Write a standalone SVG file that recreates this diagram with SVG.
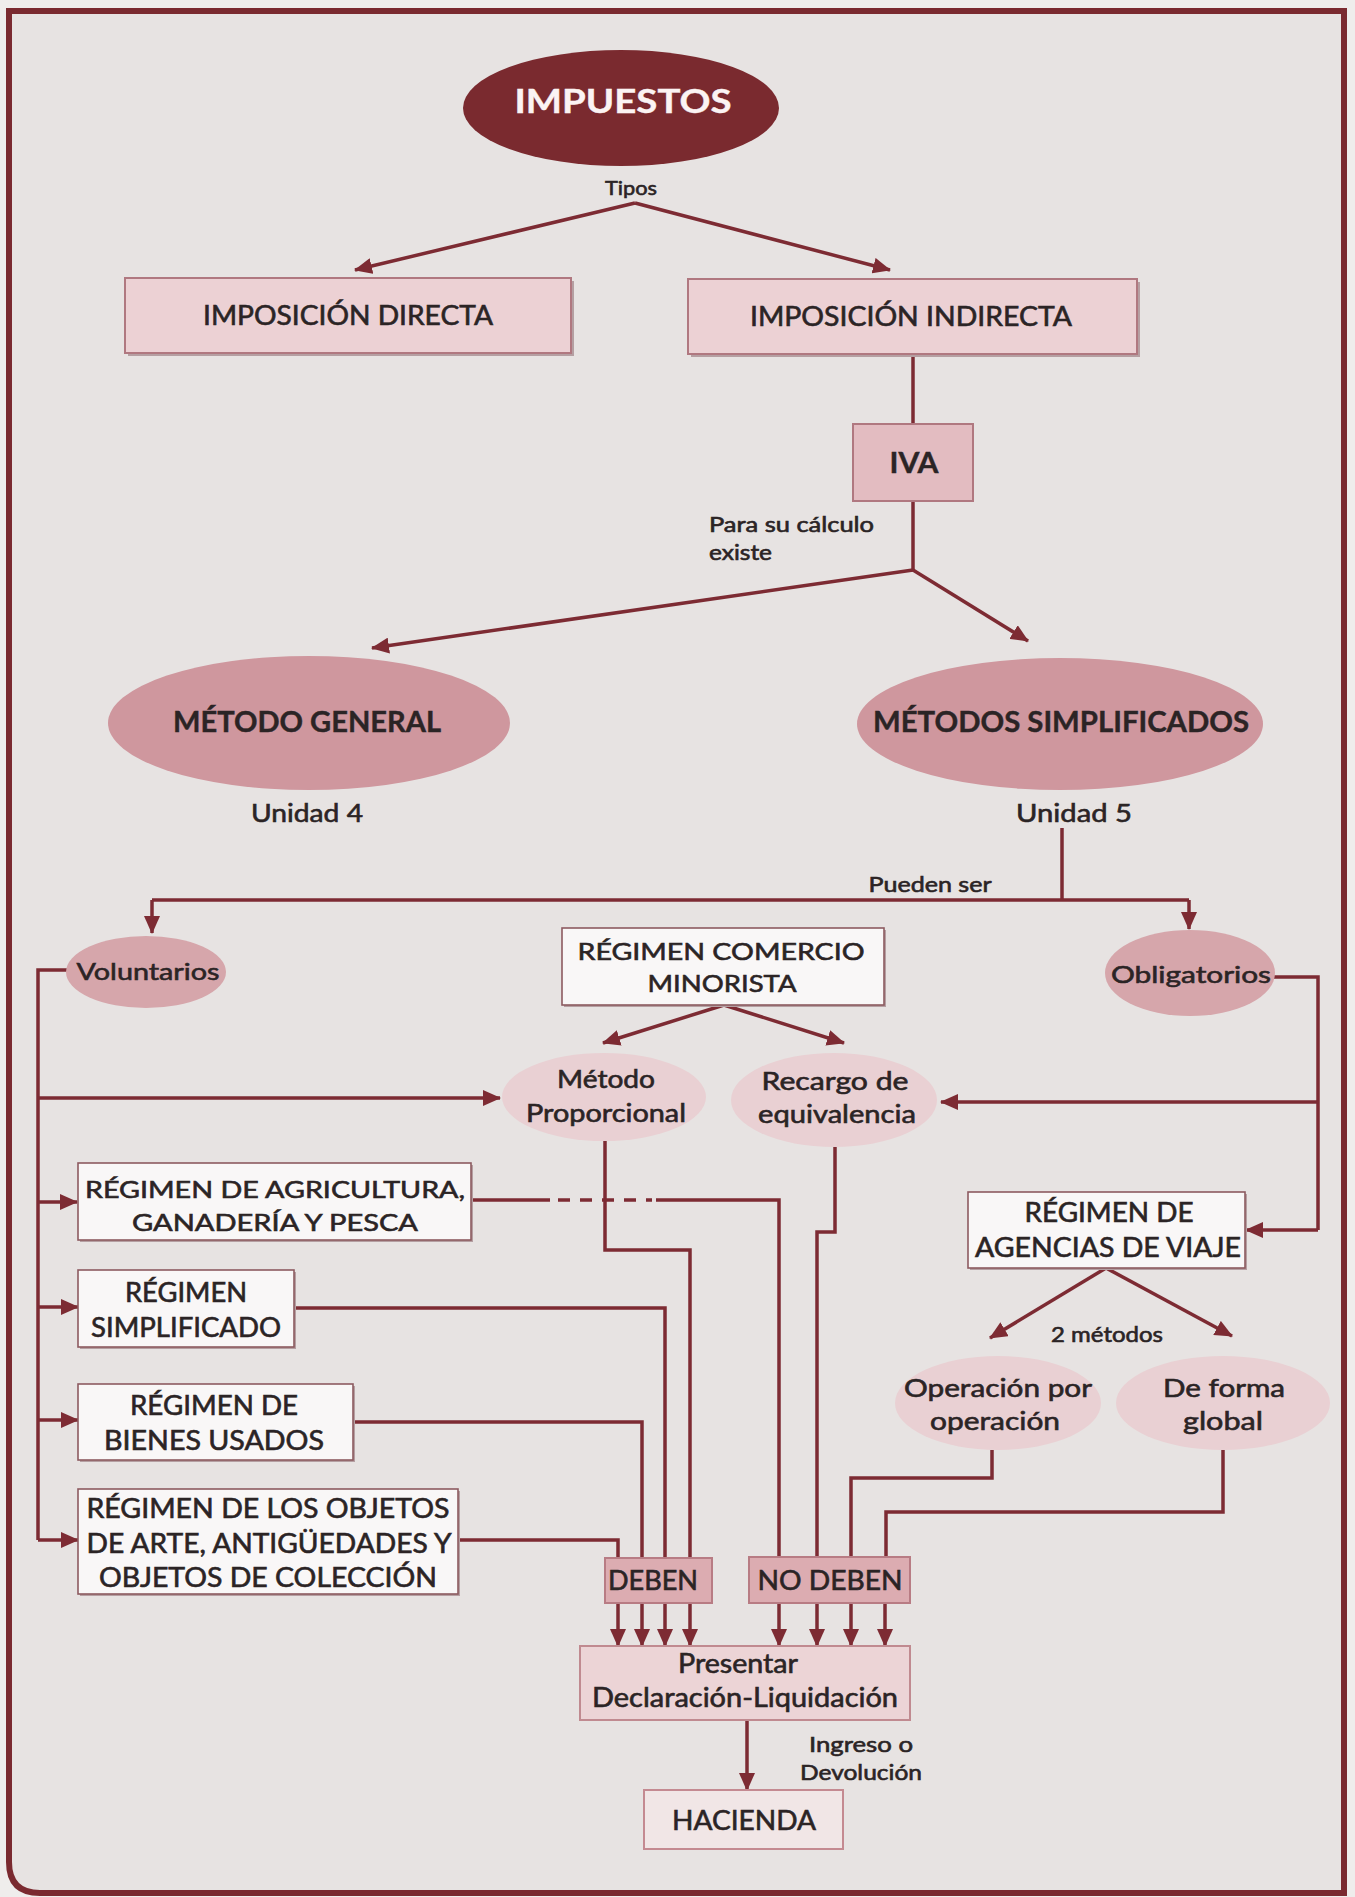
<svg xmlns="http://www.w3.org/2000/svg" width="1355" height="1897" viewBox="0 0 1355 1897">
  <defs>
    <marker id="ah" markerUnits="userSpaceOnUse" markerWidth="18" markerHeight="16" refX="17" refY="8" orient="auto">
      <path d="M0,0 L18,8 L0,16 z" fill="#7d2b33"/>
    </marker>
  </defs>
  <style>
    .t{font-family:Lato,"Open Sans","Liberation Sans",sans-serif;fill:#2b2425;stroke:#2b2425;stroke-width:0.6;text-anchor:middle}
    .b{font-weight:bold;stroke-width:0.4}
    .edge{fill:none;stroke:#7d2b33;stroke-width:3.5;stroke-linejoin:miter}
    .arr{marker-end:url(#ah)}
    .pink{fill:#ecd1d4;stroke:#b07880;stroke-width:2}
    .white{fill:#f9f7f7;stroke:#8d5a60;stroke-width:1.6}
    .shade{fill:#b59fa2}
    .soft{fill:#e9d0d3}
    .mid{fill:#d6a6ab}
  </style>

  <!-- page and frame -->
  <rect x="0" y="0" width="1355" height="1897" fill="#efedec"/>
  <path d="M9,11 H1344 V1893 H40 Q9,1893 9,1862 Z" fill="#e7e3e2"/>
  <path d="M9,11 H1344 V1893 H40 Q9,1893 9,1862 Z" fill="none" stroke="#7a2a30" stroke-width="6"/>

  <!-- connectors -->
  <g id="connectors">
    <path class="edge arr" d="M635,203 L355,270"/>
    <path class="edge arr" d="M635,203 L890,270"/>
    <path class="edge" d="M913,355 V424"/>
    <path class="edge" d="M913,501 V570"/>
    <path class="edge arr" d="M913,570 L372,648"/>
    <path class="edge arr" d="M913,570 L1028,641"/>
    <path class="edge" d="M1062,828 V900"/>
    <path class="edge" d="M152,900 H1189"/>
    <path class="edge arr" d="M152,900 V933"/>
    <path class="edge arr" d="M1189,900 V929"/>
    <!-- voluntarios spine -->
    <path class="edge" d="M67,970 H38 V1540"/>
    <path class="edge arr" d="M38,1098 H500"/>
    <path class="edge arr" d="M38,1202 H77"/>
    <path class="edge arr" d="M38,1307 H78"/>
    <path class="edge arr" d="M38,1420 H78"/>
    <path class="edge arr" d="M38,1540 H78"/>
    <!-- obligatorios spine -->
    <path class="edge" d="M1274,977 H1318 V1230"/>
    <path class="edge arr" d="M1318,1102 H941"/>
    <path class="edge arr" d="M1318,1230 H1246"/>
    <!-- comercio minorista -->
    <path class="edge arr" d="M724,1005 L603,1043"/>
    <path class="edge arr" d="M724,1005 L844,1043"/>
    <!-- towards DEBEN -->
    <path class="edge" d="M605,1141 V1250 H690 V1558"/>
    <path class="edge" d="M294,1308 H665 V1558"/>
    <path class="edge" d="M353,1422 H642 V1558"/>
    <path class="edge" d="M458,1540 H618 V1558"/>
    <!-- towards NO DEBEN -->
    <path class="edge" d="M471,1200 H550"/>
    <path class="edge" d="M558,1200 H652" stroke-dasharray="12 10"/>
    <path class="edge" d="M656,1200 H779 V1557"/>
    <path class="edge" d="M835,1147 V1232 H817 V1557"/>
    <path class="edge" d="M992,1450 V1478 H851 V1557"/>
    <path class="edge" d="M1223,1450 V1512 H886 V1557"/>
    <!-- agencias -->
    <path class="edge arr" d="M1106,1268 L990,1338"/>
    <path class="edge arr" d="M1106,1268 L1232,1336"/>
    <!-- to presentar -->
    <path class="edge arr" d="M618,1603 V1646"/>
    <path class="edge arr" d="M642,1603 V1646"/>
    <path class="edge arr" d="M665,1603 V1646"/>
    <path class="edge arr" d="M690,1603 V1646"/>
    <path class="edge arr" d="M779,1603 V1646"/>
    <path class="edge arr" d="M817,1603 V1646"/>
    <path class="edge arr" d="M851,1603 V1646"/>
    <path class="edge arr" d="M885,1603 V1646"/>
    <path class="edge arr" d="M747,1720 V1790"/>
  </g>

  <!-- edge labels -->
  <g id="labels">
    <text class="t" x="631" y="195" font-size="20" textLength="52" lengthAdjust="spacingAndGlyphs">Tipos</text>
    <text class="t" x="709" y="532" font-size="21" style="text-anchor:start" textLength="165" lengthAdjust="spacingAndGlyphs">Para su cálculo</text>
    <text class="t" x="709" y="560" font-size="21" style="text-anchor:start" textLength="63" lengthAdjust="spacingAndGlyphs">existe</text>
    <text class="t" x="307" y="822" font-size="25" textLength="112" lengthAdjust="spacingAndGlyphs">Unidad 4</text>
    <text class="t" x="1074" y="822" font-size="25" textLength="116" lengthAdjust="spacingAndGlyphs">Unidad 5</text>
    <text class="t" x="930" y="892" font-size="21" textLength="123" lengthAdjust="spacingAndGlyphs">Pueden ser</text>
    <text class="t" x="1107" y="1342" font-size="21" textLength="112" lengthAdjust="spacingAndGlyphs">2 métodos</text>
    <text class="t" x="861" y="1752" font-size="21" textLength="104" lengthAdjust="spacingAndGlyphs">Ingreso o</text>
    <text class="t" x="861" y="1780" font-size="21" textLength="122" lengthAdjust="spacingAndGlyphs">Devolución</text>
  </g>

  <g id="impuestos">
    <ellipse cx="621" cy="108" rx="158" ry="58" fill="#7a2a2f"/>
    <text class="t b" x="623" y="113" font-size="32" style="fill:#fbf3f3;stroke:#fbf3f3" textLength="217" lengthAdjust="spacingAndGlyphs">IMPUESTOS</text>
  </g>

  <g id="imposicion-directa">
    <rect x="128" y="281" width="446" height="75" class="shade"/>
    <rect x="125" y="278" width="446" height="75" class="pink"/>
    <text class="t" x="348" y="325" font-size="26" textLength="290" lengthAdjust="spacingAndGlyphs">IMPOSICIÓN DIRECTA</text>
  </g>

  <g id="imposicion-indirecta">
    <rect x="691" y="282" width="449" height="75" class="shade"/>
    <rect x="688" y="279" width="449" height="75" class="pink"/>
    <text class="t" x="911" y="326" font-size="26" textLength="322" lengthAdjust="spacingAndGlyphs">IMPOSICIÓN INDIRECTA</text>
  </g>

  <g id="iva">
    <rect x="853" y="424" width="120" height="77" fill="#e3bcc1" stroke="#b07880" stroke-width="2"/>
    <text class="t b" x="914" y="473" font-size="28" textLength="49" lengthAdjust="spacingAndGlyphs">IVA</text>
  </g>

  <g id="metodo-general">
    <ellipse cx="309" cy="723" rx="201" ry="67" fill="#cf979e"/>
    <text class="t b" x="307" y="732" font-size="28" textLength="268" lengthAdjust="spacingAndGlyphs">MÉTODO GENERAL</text>
  </g>

  <g id="metodos-simplificados">
    <ellipse cx="1060" cy="724" rx="203" ry="66" fill="#cf979e"/>
    <text class="t b" x="1061" y="732" font-size="28" textLength="376" lengthAdjust="spacingAndGlyphs">MÉTODOS SIMPLIFICADOS</text>
  </g>

  <g id="voluntarios">
    <ellipse cx="146" cy="972" rx="80" ry="36" class="mid"/>
    <text class="t" x="148" y="980" font-size="24" textLength="143" lengthAdjust="spacingAndGlyphs">Voluntarios</text>
  </g>

  <g id="obligatorios">
    <ellipse cx="1190" cy="973" rx="85" ry="43" class="mid"/>
    <text class="t" x="1191" y="983" font-size="24" textLength="160" lengthAdjust="spacingAndGlyphs">Obligatorios</text>
  </g>

  <g id="comercio-minorista">
    <rect x="564" y="930" width="322" height="77" class="shade"/>
    <rect x="562" y="928" width="322" height="77" class="white"/>
    <text class="t" x="721" y="960" font-size="24" textLength="287" lengthAdjust="spacingAndGlyphs">RÉGIMEN COMERCIO</text>
    <text class="t" x="722" y="992" font-size="24" textLength="149" lengthAdjust="spacingAndGlyphs">MINORISTA</text>
  </g>

  <g id="metodo-proporcional">
    <ellipse cx="604" cy="1097" rx="102" ry="44" class="soft"/>
    <text class="t" x="606" y="1088" font-size="25" textLength="98" lengthAdjust="spacingAndGlyphs">Método</text>
    <text class="t" x="606" y="1122" font-size="25" textLength="160" lengthAdjust="spacingAndGlyphs">Proporcional</text>
  </g>

  <g id="recargo-equivalencia">
    <ellipse cx="834" cy="1100" rx="103" ry="47" class="soft"/>
    <text class="t" x="835" y="1090" font-size="25" textLength="147" lengthAdjust="spacingAndGlyphs">Recargo de</text>
    <text class="t" x="837" y="1123" font-size="25" textLength="158" lengthAdjust="spacingAndGlyphs">equivalencia</text>
  </g>

  <g id="agricultura">
    <rect x="80" y="1165" width="393" height="77" class="shade"/>
    <rect x="78" y="1163" width="393" height="77" class="white"/>
    <text class="t" x="275" y="1198" font-size="24" textLength="380" lengthAdjust="spacingAndGlyphs">RÉGIMEN DE AGRICULTURA,</text>
    <text class="t" x="275" y="1231" font-size="24" textLength="286" lengthAdjust="spacingAndGlyphs">GANADERÍA Y PESCA</text>
  </g>

  <g id="regimen-simplificado">
    <rect x="80" y="1272" width="216" height="77" class="shade"/>
    <rect x="78" y="1270" width="216" height="77" class="white"/>
    <text class="t" x="186" y="1302" font-size="26" textLength="122" lengthAdjust="spacingAndGlyphs">RÉGIMEN</text>
    <text class="t" x="186" y="1337" font-size="26" textLength="190" lengthAdjust="spacingAndGlyphs">SIMPLIFICADO</text>
  </g>

  <g id="bienes-usados">
    <rect x="80" y="1386" width="275" height="76" class="shade"/>
    <rect x="78" y="1384" width="275" height="76" class="white"/>
    <text class="t" x="214" y="1415" font-size="26" textLength="168" lengthAdjust="spacingAndGlyphs">RÉGIMEN DE</text>
    <text class="t" x="214" y="1450" font-size="26" textLength="220" lengthAdjust="spacingAndGlyphs">BIENES USADOS</text>
  </g>

  <g id="objetos-arte">
    <rect x="80" y="1491" width="380" height="105" class="shade"/>
    <rect x="78" y="1489" width="380" height="105" class="white"/>
    <text class="t" x="268" y="1518" font-size="26" textLength="363" lengthAdjust="spacingAndGlyphs">RÉGIMEN DE LOS OBJETOS</text>
    <text class="t" x="269" y="1553" font-size="26" textLength="365" lengthAdjust="spacingAndGlyphs">DE ARTE, ANTIGÜEDADES Y</text>
    <text class="t" x="268" y="1587" font-size="26" textLength="338" lengthAdjust="spacingAndGlyphs">OBJETOS DE COLECCIÓN</text>
  </g>

  <g id="agencias-viaje">
    <rect x="970" y="1194" width="277" height="76" class="shade"/>
    <rect x="968" y="1192" width="277" height="76" class="white"/>
    <text class="t" x="1109" y="1222" font-size="26" textLength="169" lengthAdjust="spacingAndGlyphs">RÉGIMEN DE</text>
    <text class="t" x="1108" y="1257" font-size="26" textLength="266" lengthAdjust="spacingAndGlyphs">AGENCIAS DE VIAJE</text>
  </g>

  <g id="operacion-por-operacion">
    <ellipse cx="998" cy="1403" rx="103" ry="47" class="soft"/>
    <text class="t" x="998" y="1397" font-size="25" textLength="188" lengthAdjust="spacingAndGlyphs">Operación por</text>
    <text class="t" x="995" y="1430" font-size="25" textLength="130" lengthAdjust="spacingAndGlyphs">operación</text>
  </g>

  <g id="forma-global">
    <ellipse cx="1223" cy="1403" rx="107" ry="47" class="soft"/>
    <text class="t" x="1224" y="1397" font-size="25" textLength="122" lengthAdjust="spacingAndGlyphs">De forma</text>
    <text class="t" x="1223" y="1430" font-size="25" textLength="80" lengthAdjust="spacingAndGlyphs">global</text>
  </g>

  <g id="deben">
    <rect x="605" y="1558" width="107" height="45" fill="#dcacb1" stroke="#b87c84" stroke-width="2"/>
    <text class="t" x="653" y="1590" font-size="26" textLength="90" lengthAdjust="spacingAndGlyphs">DEBEN</text>
  </g>

  <g id="no-deben">
    <rect x="749" y="1557" width="161" height="46" fill="#dcacb1" stroke="#b87c84" stroke-width="2"/>
    <text class="t" x="830" y="1590" font-size="26" textLength="145" lengthAdjust="spacingAndGlyphs">NO DEBEN</text>
  </g>

  <g id="presentar">
    <rect x="580" y="1646" width="330" height="74" fill="#ecd4d6" stroke="#c08a90" stroke-width="2"/>
    <text class="t" x="738" y="1673" font-size="26" textLength="120" lengthAdjust="spacingAndGlyphs">Presentar</text>
    <text class="t" x="745" y="1707" font-size="26" textLength="306" lengthAdjust="spacingAndGlyphs">Declaración-Liquidación</text>
  </g>

  <g id="hacienda">
    <rect x="644" y="1790" width="199" height="59" fill="#f1e6e6" stroke="#c48a91" stroke-width="2"/>
    <text class="t" x="744" y="1830" font-size="27" textLength="144" lengthAdjust="spacingAndGlyphs">HACIENDA</text>
  </g>
</svg>
